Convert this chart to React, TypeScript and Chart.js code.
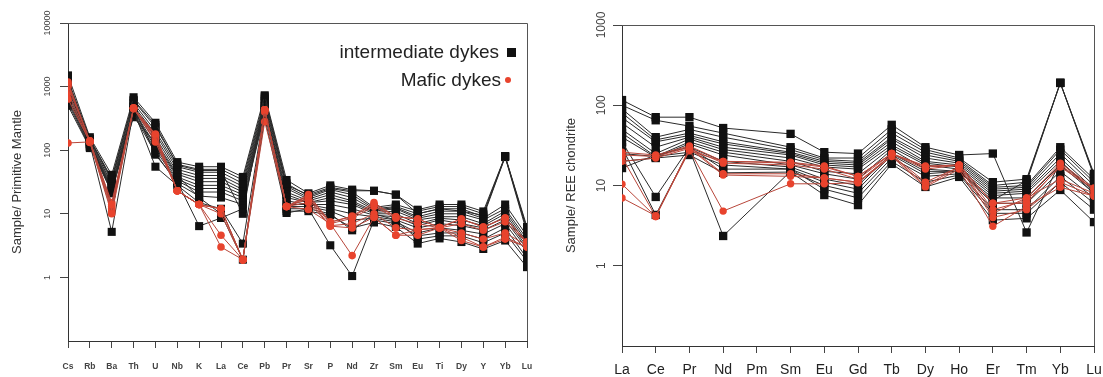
import React, { useEffect, useRef } from "react";
import { Chart, registerables } from "chart.js";

Chart.register(...registerables);

const FONT = '"Liberation Sans", Arial, Helvetica, sans-serif';

// ---------- Left panel: primitive-mantle normalised spider diagram ----------
const pmElements = ["Cs", "Rb", "Ba", "Th", "U", "Nb", "K", "La", "Ce", "Pb", "Pr", "Sr", "P", "Nd", "Zr", "Sm", "Eu", "Ti", "Dy", "Y", "Yb", "Lu"];
const pmYTicks = [1, 10, 100, 1000, 10000];

const pmIntermediate = [
  [1500, 160, 41, 680, 270, 65, 55, 55, 38, 730, 34, 21, 28, 24, 23, 20, 11.6, 14, 14, 10.9, 81, 6.2],
  [1300, 150, 36, 600, 230, 60, 50, 50, 34, 650, 30, 19, 25, 22, 12.6, 14, 11, 13, 13, 10, 80, 5.5],
  [1100, 145, 33, 550, 200, 55, 45, 45, 30, 600, 27, 18, 24, 20, 12, 13, 10, 12, 12, 9, 78, 5],
  [1000, 140, 30, 500, 180, 50, 40, 40, 27, 550, 25, 17, 22, 18, 11.5, 12.5, 9, 11, 11, 8.5, 14, 4.5],
  [900, 135, 28, 470, 160, 45, 36, 36, 24, 500, 22, 16, 20, 16, 11, 12, 8.5, 10, 10, 8, 12, 4],
  [800, 130, 26, 440, 140, 42, 32, 32, 22, 470, 20, 15, 18, 15, 10.5, 11, 8, 9, 9, 7, 11, 3.6],
  [700, 125, 25, 420, 120, 38, 28, 28, 20, 440, 18, 15, 16, 14, 10, 10, 7, 8.5, 8, 6.5, 10, 3.3],
  [650, 120, 24, 400, 110, 35, 25, 25, 18, 420, 16, 14, 14, 12, 9.5, 9, 6.5, 8, 7, 6, 9, 3],
  [600, 115, 23, 380, 100, 33, 22, 22, 16, 400, 14, 14, 12, 10, 9, 8, 6, 7, 6.5, 5.5, 8, 2.8],
  [550, 112, 22, 360, 90, 30, 19, 18, 14, 380, 13, 13, 11, 8, 8.5, 7.5, 5, 6, 5.5, 4.8, 7, 2.5],
  [800, 125, 5.2, 420, 55, 28, 15, 12, 3.4, 450, 12, 12, 3.2, 1.05, 8, 7, 4.5, 5, 5, 4, 6, 2],
  [1000, 135, 21, 480, 85, 32, 6.4, 8.6, 12, 500, 11, 11, 9.5, 6, 7.3, 6.2, 3.4, 4.1, 3.6, 2.8, 3.8, 1.45],
  [500, 108, 25, 330, 130, 40, 18, 10, 1.9, 320, 10.3, 12, 10, 5.5, 10, 8, 4, 4.5, 4.5, 3.5, 5, 1.8],
  [1200, 150, 35, 620, 250, 58, 48, 48, 10, 700, 28, 20, 26, 23, 23, 20, 10, 12, 11, 9.5, 80, 5.8],
];

const pmMafic = [
  [1180, 140, 14, 460, 180, 23, 14, 12, 1.9, 430, 13, 20, 7.4, 9.2, 15, 9, 8.3, 6.1, 8.3, 6.2, 8.6, 3.6],
  [640, 135, 10, 450, 135, 23, 14, 4.6, 1.9, 280, 13, 17, 6.4, 6, 8.8, 4.6, 5.6, 6.1, 4.3, 3, 4.3, 3],
  [130, 135, 12, 455, 160, 23, 14, 3.0, 1.9, 430, 13, 11.7, 7, 2.2, 8.8, 4.6, 4.6, 6, 3.8, 3, 4, 3],
  [1000, 138, 13, 460, 170, 23, 14, 12, 1.9, 430, 13, 19, 7.4, 9, 14, 9, 8.3, 6.1, 8.3, 6.2, 8.6, 3.6],
  [800, 132, 11, 455, 150, 23, 14, 10, 1.9, 400, 13, 15, 6.5, 7, 10, 6, 5.6, 6, 5, 4, 5, 3.2],
  [1100, 140, 15, 460, 175, 23, 14, 12, 1.9, 430, 13, 18, 7, 8.5, 13, 8.5, 7, 6, 7, 5.5, 7.5, 3.5],
];

// ---------- Right panel: chondrite-normalised REE ----------
const reeElements = ["La", "Ce", "Pr", "Nd", "Pm", "Sm", "Eu", "Gd", "Tb", "Dy", "Ho", "Er", "Tm", "Yb", "Lu"];
const reeYTicks = [1, 10, 100, 1000];

const reeIntermediate = [
  [116, 71, 71, 52, null, 44, 26, 25, 57, 30, 24, 25, 2.6, 20, 8],
  [100, 65, 55, 45, null, 30, 22, 22, 50, 28, 22, 11, 12, 190, 14],
  [90, 40, 50, 40, null, 28, 21, 20, 45, 26, 21, 10, 11, 190, 13],
  [80, 37, 45, 35, null, 26, 20, 19, 40, 24, 20, 9.5, 10, 30, 12],
  [70, 35, 42, 33, null, 25, 19, 18, 38, 22, 19, 9, 9.5, 28, 11],
  [60, 30, 40, 30, null, 24, 18, 17, 35, 20, 18, 8.5, 9, 25, 10],
  [50, 25, 38, 28, null, 22, 17, 16, 32, 19, 17, 8, 8.5, 22, 9],
  [45, 23, 35, 26, null, 20, 15, 14, 30, 18, 16, 7.5, 8, 20, 8.5],
  [40, 22.5, 33, 24, null, 18, 14, 12, 28, 16, 15, 7, 7, 18, 8],
  [35, 7.2, 30, 20, null, 17, 12, 10, 25, 15, 15, 6, 6, 15, 7],
  [30, 4.3, 28, 2.35, null, 15, 10, 8, 22, 13, 14, 5, 5, 13, 6],
  [25, 23, 26, 18, null, 16, 9, 7, 20, 11, 13.5, 4.5, 4.5, 11, 5],
  [20, 22, 24, 14.4, null, 14.7, 7.6, 5.7, 18.6, 9.6, 12.8, 3.7, 3.9, 8.8, 3.5],
  [16.5, 24, 30, 16, null, 16, 11, 9, 24, 14, 15, 6.5, 11.5, 190, 13.5],
];

const reeMafic = [
  [26, 24, 31, 20, null, 19.5, 17.5, 13, 25, 17.5, 18, 6, 7, 19, 9.3],
  [22.5, 4.1, 29, 13.5, null, 13, 12.4, 11, 24, 10, 17, 4, 5, 11, 7.4],
  [10.4, 4.1, 28, 4.8, null, 10.5, 10.5, 10.8, 23, 9.6, 16, 3.1, 5.5, 9.5, 7.4],
  [7, 4.2, 27, 20, null, 19, 17, 13, 25, 17, 18, 6, 6, 18, 9],
  [24, 23, 30, 14, null, 14, 12.4, 11, 24, 11, 17, 4.5, 7, 12, 8],
  [20, 22, 29, 19, null, 18, 16, 12, 25, 16, 18, 5, 6.5, 17, 9],
];

const INT_POINT = "#111111";
const INT_LINE = "#2a2a2a";
const MAF_POINT = "#e8432d";
const MAF_LINE = "#b8463a";

const framePlugin = {
  id: "frame",
  afterDraw(chart: any) {
    const { ctx, chartArea } = chart;
    const { left, right, top, bottom } = chartArea;
    ctx.save();
    ctx.strokeStyle = "#555";
    ctx.lineWidth = 1;
    ctx.beginPath();
    ctx.moveTo(Math.round(left), Math.round(top) + 0.5);
    ctx.lineTo(Math.round(right) + 0.5, Math.round(top) + 0.5);
    ctx.lineTo(Math.round(right) + 0.5, Math.round(bottom));
    ctx.stroke();
    ctx.restore();
  },
};

type PanelOpts = {
  labels: string[];
  intermediate: (number | null)[][];
  mafic: (number | null)[][];
  yTicks: number[];
  yMax: number;
  yTitle: string;
  yAxisWidth: number;
  xAxisHeight: number;
  padTop: number;
  padRight: number;
  yTickFont: number;
  yTickLen: number;
  yTickPad: number;
  yTitlePad: number;
  xTickFont: number;
  xTickBold: boolean;
  xTickPad: number;
  xTickColor: string;
  sqRadius: number;
  circRadius: number;
};

function makeConfig(o: PanelOpts): any {
  const datasets: any[] = [];
  o.mafic.forEach((vals) => {
    datasets.push({
      data: vals,
      borderColor: MAF_LINE,
      borderWidth: 1,
      pointStyle: "circle",
      pointRadius: o.circRadius,
      pointBackgroundColor: MAF_POINT,
      pointBorderWidth: 0,
      spanGaps: true,
      clip: 0,
      tension: 0,
      fill: false,
    });
  });
  o.intermediate.forEach((vals) => {
    datasets.push({
      data: vals,
      borderColor: INT_LINE,
      borderWidth: 1,
      pointStyle: "rect",
      pointRadius: o.sqRadius,
      pointBackgroundColor: INT_POINT,
      pointBorderWidth: 0,
      spanGaps: true,
      clip: 0,
      tension: 0,
      fill: false,
    });
  });
  return {
    type: "line",
    data: { labels: o.labels, datasets },
    plugins: [framePlugin],
    options: {
      responsive: false,
      animation: false,
      devicePixelRatio: 1,
      layout: { padding: { top: o.padTop, right: o.padRight, left: 0, bottom: 0 } },
      plugins: { legend: { display: false }, tooltip: { enabled: false } },
      events: [],
      scales: {
        x: {
          type: "category",
          offset: false,
          afterFit: (s: any) => {
            s.height = o.xAxisHeight;
            s.paddingLeft = 0;
            s.paddingRight = 0;
          },
          ticks: {
            autoSkip: false,
            maxRotation: 0,
            minRotation: 0,
            padding: o.xTickPad,
            color: o.xTickColor,
            font: { family: FONT, size: o.xTickFont, weight: o.xTickBold ? "bold" : "normal" },
          },
          grid: { drawOnChartArea: false, drawTicks: true, tickLength: 7, color: "#444", offset: false },
          border: { display: true, color: "#333", width: 1 },
        },
        y: {
          type: "logarithmic",
          min: 0.1,
          max: o.yMax,
          afterBuildTicks: (s: any) => {
            s.ticks = o.yTicks.map((v) => ({ value: v }));
          },
          afterFit: (s: any) => {
            s.width = o.yAxisWidth;
            s.paddingTop = 0;
            s.paddingBottom = 0;
          },
          ticks: {
            minRotation: 90,
            maxRotation: 90,
            crossAlign: "center",
            padding: o.yTickPad,
            color: "#444",
            font: { family: FONT, size: o.yTickFont },
            callback: (v: any) => String(v),
          },
          grid: { drawOnChartArea: false, drawTicks: true, tickLength: o.yTickLen, color: "#444" },
          border: { display: true, color: "#333", width: 1 },
          title: {
            display: true,
            text: o.yTitle,
            color: "#333",
            font: { family: FONT, size: 13 },
            padding: { top: o.yTitlePad, bottom: 0 },
          },
        },
      },
    },
  };
}

function Panel({ width, height, opts }: { width: number; height: number; opts: PanelOpts }) {
  const ref = useRef<HTMLCanvasElement | null>(null);
  useEffect(() => {
    if (!ref.current) return;
    const chart = new Chart(ref.current, makeConfig(opts));
    return () => chart.destroy();
  }, []);
  return <canvas ref={ref} width={width} height={height} style={{ display: "block", width, height }} />;
}

const leftOpts: PanelOpts = {
  labels: pmElements,
  intermediate: pmIntermediate,
  mafic: pmMafic,
  yTicks: pmYTicks,
  yMax: 10000,
  yTitle: "Sample/ Primitive Mantle",
  yAxisWidth: 68,
  xAxisHeight: 36,
  padTop: 23,
  padRight: 18,
  yTickFont: 9,
  yTickLen: 8,
  yTickPad: 0,
  yTitlePad: 10,
  xTickFont: 8.5,
  xTickBold: true,
  xTickPad: 14,
  xTickColor: "#444",
  sqRadius: 5.7,
  circRadius: 3.8,
};

const rightOpts: PanelOpts = {
  labels: reeElements,
  intermediate: reeIntermediate,
  mafic: reeMafic,
  yTicks: reeYTicks,
  yMax: 1000,
  yTitle: "Sample/ REE chondrite",
  yAxisWidth: 77,
  xAxisHeight: 31,
  padTop: 25,
  padRight: 9,
  yTickFont: 12,
  yTickLen: 9,
  yTickPad: -2,
  yTitlePad: 19,
  xTickFont: 14,
  xTickBold: false,
  xTickPad: 9,
  xTickColor: "#222",
  sqRadius: 5.9,
  circRadius: 3.7,
};

export default function App() {
  return (
    <div
      style={{
        position: "fixed",
        left: 0,
        top: 0,
        width: 1103,
        height: 377,
        background: "#fff",
        fontFamily: FONT,
        overflow: "hidden",
      }}
    >
      <div style={{ position: "absolute", left: 0, top: 0, width: 545, height: 377 }}>
        <Panel width={545} height={377} opts={leftOpts} />
      </div>
      <div style={{ position: "absolute", left: 545, top: 0, width: 558, height: 377 }}>
        <Panel width={558} height={377} opts={rightOpts} />
      </div>
      {/* legend of the left panel */}
      <div
        style={{
          position: "absolute",
          right: 1103 - 499,
          top: 41,
          fontSize: 19,
          lineHeight: "22px",
          color: "#222",
          whiteSpace: "nowrap",
        }}
      >
        intermediate dykes
      </div>
      <div style={{ position: "absolute", left: 507, top: 48, width: 9, height: 9, background: INT_POINT }} />
      <div
        style={{
          position: "absolute",
          right: 1103 - 501,
          top: 69,
          fontSize: 19,
          lineHeight: "22px",
          color: "#222",
          whiteSpace: "nowrap",
        }}
      >
        Mafic dykes
      </div>
      <div
        style={{
          position: "absolute",
          left: 505,
          top: 77,
          width: 6,
          height: 6,
          borderRadius: "50%",
          background: MAF_POINT,
        }}
      />
    </div>
  );
}
